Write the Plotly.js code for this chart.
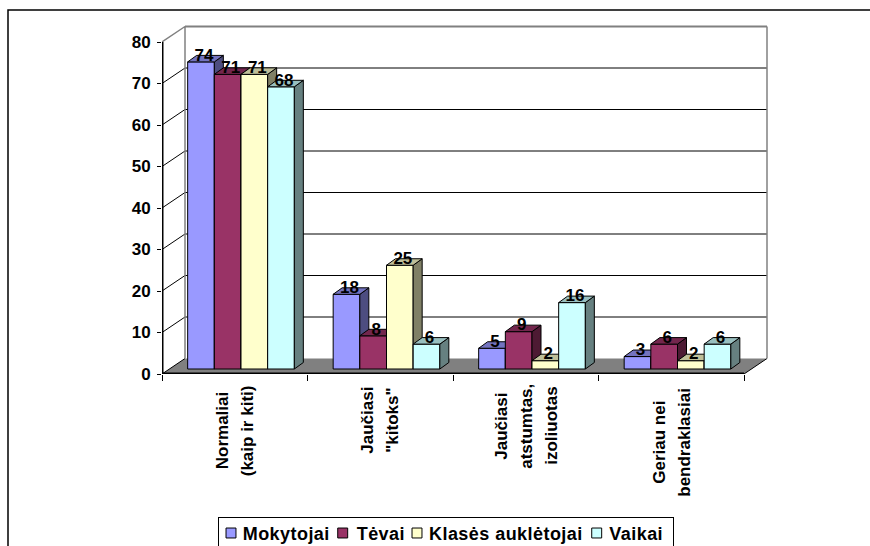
<!DOCTYPE html>
<html><head><meta charset="utf-8">
<script src="https://cdn.plot.ly/plotly-3.0.1.min.js"></script>
<style>html,body{margin:0;padding:0;background:#fff;overflow:hidden}</style></head>
<body><div id="chart" style="width:870px;height:546px"></div>
<script>
const categoryLines = [["Normaliai","(kaip ir kiti)"], ["Jaučiasi","\"kitoks\""], ["Jaučiasi","atstumtas,","izoliuotas"], ["Geriau nei","bendraklasiai"]];
const categoryPositions = [0, 1, 2, 3];
const seriesNames = ["Mokytojai", "Tėvai", "Klasės auklėtojai", "Vaikai"];
const mokytojai = [74, 18, 5, 3];
const tevai = [71, 8, 9, 6];
const klasesAukletojai = [71, 25, 2, 2];
const vaikai = [68, 6, 16, 6];
const seriesValues = [mokytojai, tevai, klasesAukletojai, vaikai];
const frontColors = ["#9999FF", "#993366", "#FFFFCC", "#CCFFFF"];
const topColors = ["#7373BF", "#73264D", "#BFBF99", "#99BFBF"];
const sideColors = ["#4D4D80", "#4D1A33", "#808066", "#668080"];
const yTicks = [0, 10, 20, 30, 40, 50, 60, 70, 80];

const W = 870, H = 546;
const L = 162, R = 744, T = 42, B = 374, pad = 20;
const pxX = 4 / (R - L), pxY = 80 / (B - T);   // data units per pixel
const wallDX = 23 * pxX, wallDY = 15.5 * pxY;
const barDX = 9 * pxX, barDY = 6.5 * pxY;
const barW = 26.67 * pxX, barBase = 5 * pxY;
const groupShift = 6.25 * pxX;
const x0 = -0.5, x1 = 3.5;
const yMax = yTicks[yTicks.length-1];
const labelCenters = [431, 420, 426, 442], lineGap = 25;

const traces = [];
const plain = {type:'scatter',mode:'lines',showlegend:false,hoverinfo:'skip'};
// floor
traces.push({...plain,x:[x0,x0+wallDX,x1+wallDX,x1,x0],y:[0,wallDY,wallDY,0,0],fill:'toself',fillcolor:'#808080',line:{width:0}});
// back and side wall grid
const gx=[],gy=[];
yTicks.slice(1,-1).forEach(t=>{gx.push(x0,x0+wallDX,x1+wallDX,null);gy.push(t,t+wallDY,t+wallDY,null);});
traces.push({...plain,x:gx,y:gy,line:{color:'#000',width:1}});
traces.push({...plain,x:[x0,x0+wallDX,null,x1,x1+wallDX],y:[0,wallDY,null,0,wallDY],line:{color:'#000',width:1}});
// wall frame
traces.push({...plain,x:[x0+wallDX,x1+wallDX],y:[yMax+wallDY,yMax+wallDY],line:{color:'#808080',width:2}});
traces.push({...plain,x:[x0,x0+wallDX,x0+wallDX,null,x1+wallDX,x1+wallDX],y:[yMax,yMax+wallDY,wallDY,null,yMax+wallDY,wallDY],line:{color:'#808080',width:1.5}});
// value and category axis lines (only along the front edge of the 3D box)
traces.push({...plain,x:[x0,x0,x1],y:[yMax,0,0],line:{color:'#000',width:3}});

seriesValues.forEach((vals,i)=>{
  const n=i+2, xa='x'+n, ya='y'+n;
  const off=groupShift+(i-2)*barW;
  traces.push({type:'bar',name:seriesNames[i],x:categoryPositions,y:vals,base:vals.map(()=>barBase),width:barW,offset:off,
    xaxis:xa,yaxis:ya,marker:{color:frontColors[i],line:{color:'#000',width:1}},hoverinfo:'skip'});
  const sx=[],sy=[],tx=[],ty=[];
  vals.forEach((v,k)=>{
    const l=categoryPositions[k]+off, r=l+barW, b=barBase, h=v+barBase;
    sx.push(r,r+barDX,r+barDX,r,r,null); sy.push(b,b+barDY,h+barDY,h,b,null);
    tx.push(l,l+barDX,r+barDX,r,l,null); ty.push(h,h+barDY,h+barDY,h,h,null);
  });
  [[sx,sy,sideColors[i]],[tx,ty,topColors[i]]].forEach(f=>{
    traces.push({...plain,x:f[0],y:f[1],fill:'toself',fillcolor:f[2],line:{color:'#000',width:1},xaxis:xa,yaxis:ya});
  });
});
// data labels above everything
seriesValues.forEach((vals,i)=>{
  const off=groupShift+(i-2)*barW;
  traces.push({type:'scatter',mode:'text',x:categoryPositions.map(c=>c+off+barW/2+3*pxX),y:vals.map(v=>v+barBase+5.5*pxY),
    text:vals.map(String),textposition:'middle center',textfont:{family:'Liberation Sans',size:17,color:'#000',weight:700},
    xaxis:'x5',yaxis:'y5',showlegend:false,hoverinfo:'skip'});
});

const annotations=[];
categoryLines.forEach((lines,k)=>lines.forEach((t,j)=>annotations.push({text:t,xref:'x',yref:'paper',
  x:categoryPositions[k]+(j-(lines.length-1)/2)*lineGap*pxX,y:(H-labelCenters[k])/H,yanchor:'middle',xanchor:'center',textangle:-90,showarrow:false,
  font:{family:'Liberation Sans',size:17,weight:700,color:'#000'}})));

// the box's depth needs room past the front plane, so the plot area runs pad px beyond it on the top and right
const xDom=[L/W,(R+wallDX/pxX+pad)/W], yDom=[(H-B)/H,(H-T+wallDY/pxY+pad)/H];
const xRange=[x0,x1+wallDX+pad*pxX], yRange=[0,yMax+wallDY+pad*pxY];
const layout={
  width:W,height:H,margin:{l:0,r:0,t:0,b:0,autoexpand:false},paper_bgcolor:'#fff',plot_bgcolor:'rgba(0,0,0,0)',
  font:{family:'Liberation Sans',color:'#000'},
  barmode:'overlay',
  xaxis:{domain:xDom,range:xRange,tick0:x0,dtick:1,ticks:'outside',ticklen:6,tickcolor:'#000',tickwidth:1,showticklabels:false,showgrid:false,zeroline:false,showline:false,anchor:'y'},
  yaxis:{domain:yDom,range:yRange,tickvals:yTicks,ticks:'outside',ticklen:4,tickcolor:'#000',tickwidth:1,showgrid:false,zeroline:false,showline:false,anchor:'x',ticklabelstandoff:3,
    tickfont:{family:'Liberation Sans',size:17,weight:700,color:'#000'}},
  legend:{orientation:'h',x:218/W,xanchor:'left',y:(H-517)/H,yanchor:'top',bgcolor:'#fff',bordercolor:'#000',borderwidth:1,
    font:{family:'Liberation Sans',size:18,weight:700,color:'#000'},traceorder:'normal'},
  annotations:annotations,
  shapes:[{type:'rect',xref:'paper',yref:'paper',x0:8/W,x1:1.02,y0:-0.02,y1:(H-10)/H,line:{color:'#000',width:1.5},layer:'below'}]
};
[2,3,4,5].forEach(n=>{
  layout['xaxis'+n]={domain:xDom,range:xRange,overlaying:'x',visible:false,anchor:'y'+n};
  layout['yaxis'+n]={domain:yDom,range:yRange,overlaying:'y',visible:false,anchor:'x'+n};
});
Plotly.newPlot('chart',traces,layout,{staticPlot:true,displayModeBar:false}).then(gd=>{
  // tighten native legend entries to the compact spacing of the original
  const swatchX=[13,124.7,199,378.7], textX=[24.7,138.7,211,391.3];
  const legend=gd.querySelector('.legend');
  legend.querySelectorAll('.traces').forEach((g,i)=>{
    g.setAttribute('transform','translate(0,16)');
    const p=g.querySelector('.legendpoints path');
    if(p){p.setAttribute('transform','translate('+swatchX[i]+',0) scale(0.83)');p.style.strokeWidth='1.2px';}
    const t=g.querySelector('.legendtext');
    t.setAttribute('x',textX[i]); t.style.letterSpacing='0.45px';
  });
  const bg=legend.querySelector('.bg');
  bg.setAttribute('width',454.5); bg.setAttribute('height',31);
});
</script></body></html>
